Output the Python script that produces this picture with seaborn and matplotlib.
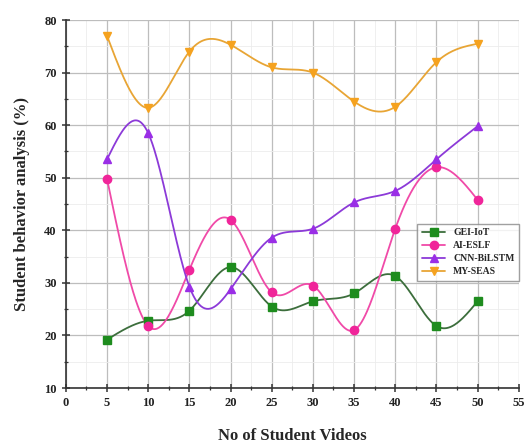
import numpy as np
import pandas as pd
import matplotlib
matplotlib.use('Agg')
import matplotlib.pyplot as plt
import seaborn as sns
from matplotlib.lines import Line2D
from matplotlib.ticker import MultipleLocator

# Dados
videos = [5, 10, 15, 20, 25, 30, 35, 40, 45, 50]
gei_iot = [19.2, 22.8, 24.7, 33.0, 25.5, 26.5, 28.0, 31.3, 21.8, 26.5]
ai_eslf = [49.8, 21.8, 32.5, 42.0, 28.2, 29.5, 21.0, 40.3, 52.0, 45.8]
cnn_bilstm = [53.5, 58.5, 29.3, 28.8, 38.6, 40.3, 45.3, 47.5, 53.5, 59.8]
my_seas = [77.0, 63.3, 74.0, 75.3, 71.0, 70.0, 64.5, 63.5, 72.0, 75.5]
labels = ['GEI-IoT', 'AI-ESLF', 'CNN-BiLSTM', 'MY-SEAS']


def natural_spline(x, y, n=400):
    # spline cúbica natural (como o "spline" do Origin)
    x = np.asarray(x, float)
    y = np.asarray(y, float)
    k = len(x)
    h = np.diff(x)
    A = np.zeros((k, k))
    b = np.zeros(k)
    A[0, 0] = A[-1, -1] = 1
    for i in range(1, k - 1):
        A[i, i - 1] = h[i - 1]
        A[i, i] = 2 * (h[i - 1] + h[i])
        A[i, i + 1] = h[i]
        b[i] = 3 * ((y[i + 1] - y[i]) / h[i] - (y[i] - y[i - 1]) / h[i - 1])
    c = np.linalg.solve(A, b)
    xs = np.linspace(x[0], x[-1], n)
    idx = np.clip(np.searchsorted(x, xs) - 1, 0, k - 2)
    dx = xs - x[idx]
    bb = (y[idx + 1] - y[idx]) / h[idx] - h[idx] * (2 * c[idx] + c[idx + 1]) / 3
    dd = (c[idx + 1] - c[idx]) / (3 * h[idx])
    ys = y[idx] + bb * dx + c[idx] * dx ** 2 + dd * dx ** 3
    return xs, ys


def main():
    sns.set_style('ticks')
    plt.rcParams['font.family'] = ['Liberation Serif', 'DejaVu Serif']
    plt.rcParams['font.weight'] = 'bold'

    fig = plt.figure(figsize=(5.31, 4.46), dpi=100)
    ax = fig.add_axes([0.124, 0.130, 0.853, 0.825])

    series = [gei_iot, ai_eslf, cnn_bilstm, my_seas]
    colors = ['#1e8c1e', '#f0259a', '#9a2ee6', '#f5a21f']
    line_colors = ['#3c6e3c', '#f04aa8', '#8c3ad8', '#e8a535']
    markers = ['s', 'o', '^', 'v']

    handles = []
    for vals, lab, col, lcol, mk in zip(series, labels, colors, line_colors, markers):
        xs, ys = natural_spline(videos, vals)
        sns.lineplot(x=xs, y=ys, color=lcol, lw=1.3, ax=ax, zorder=3)
        df = pd.DataFrame({'x': videos, 'y': vals})
        ax.plot(df['x'], df['y'], ls='none', marker=mk, ms=6, color=col,
                mec=col, zorder=4)
        handles.append(Line2D([], [], color=lcol, lw=1.3, marker=mk, ms=6,
                              mfc=col, mec=col, label=lab))

    ax.set_xlim(0, 55)
    ax.set_ylim(10, 80)
    ax.xaxis.set_major_locator(MultipleLocator(5))
    ax.yaxis.set_major_locator(MultipleLocator(10))
    ax.xaxis.set_minor_locator(MultipleLocator(2.5))
    ax.yaxis.set_minor_locator(MultipleLocator(5))
    ax.grid(which='major', color='#bdbdbd', lw=0.9)
    ax.grid(which='minor', color='#ececec', lw=0.6)
    ax.set_axisbelow(True)

    for s in ['top', 'right']:
        ax.spines[s].set_visible(False)
    for s in ['left', 'bottom']:
        ax.spines[s].set_linewidth(1.2)
        ax.spines[s].set_color('#333333')
    ax.tick_params(which='major', direction='inout', length=6, width=1.1,
                   labelsize=9, colors='#333333', labelcolor='#222222')
    ax.tick_params(which='minor', direction='inout', length=3, width=0.9,
                   colors='#333333')
    for t in ax.get_xticklabels() + ax.get_yticklabels():
        t.set_fontweight('bold')

    ax.set_xlabel('No of Student Videos', fontsize=12, fontweight='bold', labelpad=14)
    ax.set_ylabel('Student behavior analysis (%)', fontsize=12, fontweight='bold',
                  labelpad=10)

    leg = ax.legend(handles=handles, loc='upper left', bbox_to_anchor=(0.765, 0.46),
                    fontsize=7, frameon=True, fancybox=False, edgecolor='#888888',
                    handlelength=2.4, borderpad=0.5, labelspacing=0.4)
    for t in leg.get_texts():
        t.set_fontweight('bold')

    plt.savefig('out.png', dpi=100)


if __name__ == '__main__':
    main()
